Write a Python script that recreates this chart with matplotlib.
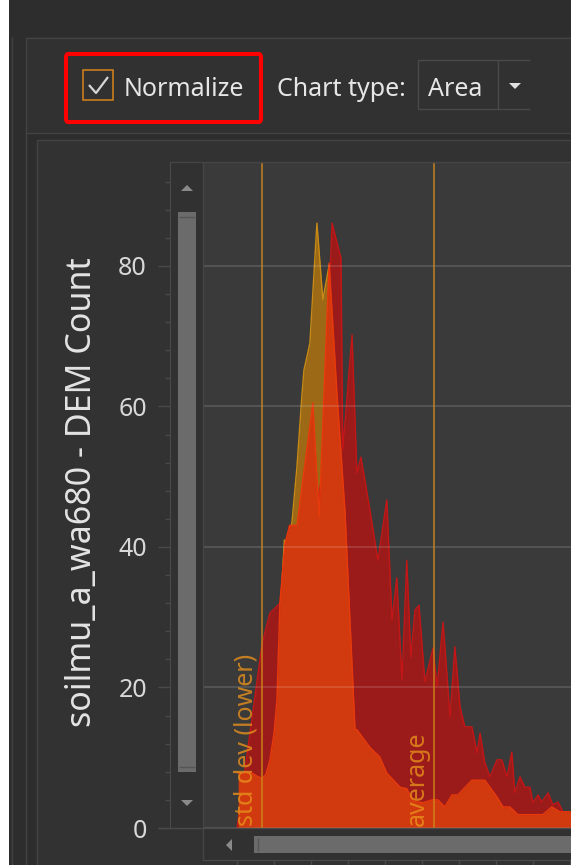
import matplotlib
matplotlib.use('Agg')
import matplotlib.pyplot as plt
import matplotlib.transforms as mtransforms
from matplotlib.patches import Rectangle, Polygon, FancyBboxPatch
from matplotlib.lines import Line2D
from matplotlib.ticker import MultipleLocator

# ---------------------------------------------------------------------------
# data (histogram of soilmu_a_wa680, bins in arbitrary units, 10 per x tick)
# ---------------------------------------------------------------------------
std_lower = 6.8
average = 53.2

gold_x = [9.5, 11.6, 12.8, 13.5, 14.9, 16.2, 17.6, 18.1, 19.7, 21.6, 23.2,
          24.9, 27.0, 29.2, 31.1, 32.7, 34.6, 37.3]
gold_y = [0, 30, 41, 39, 43.8, 51.4, 62, 65.2, 69, 86.1, 75.2,
          80.1, 62, 42, 20, 8, 3, 0]

red_x = [0.0, 3.5, 6.8, 8.9, 11.6, 13.0, 14.1, 15.7, 18.4, 21.1, 23.0, 24.3,
         25.7, 28.1, 28.6, 31.1, 32.4, 33.5, 35.7, 38.1, 40.5, 41.9, 43.2,
         44.6, 45.9, 47.0, 48.1, 49.2, 50.8, 53.0, 54.1, 55.7, 57.6, 58.9,
         60.3, 61.6, 63.5, 64.9, 65.7, 67.0, 68.4, 70.3, 71.6, 73.0, 74.3,
         75.1, 76.5, 77.8, 79.2, 80.0, 81.4, 82.4, 84.1, 85.4, 86.8, 88.1,
         90.3]
red_y = [0, 13.5, 26.3, 30.6, 32, 40, 43, 42, 44, 45, 50, 68,
         86.1, 81.1, 53.8, 70.2, 50.5, 52.8, 46, 38.1, 46.7, 29.6, 35.6,
         21.1, 38.1, 24.3, 31, 31.7, 20.8, 25.6, 20.1, 29.3, 15.8, 25.8,
         17.2, 14.4, 14.4, 10.7, 13.5, 9.3, 7.3, 9.7, 9.7, 7.3, 10.8,
         5, 7.3, 5.8, 5.8, 3.6, 4.7, 3.7, 5, 3.3, 3.7, 2.3,
         2.3]

orange_x = [0.3, 4.1, 5.7, 6.8, 7.8, 8.9, 10.0, 10.8, 11.6, 13.0, 14.3, 16.2,
            20.5, 22.2, 24.9, 27.0, 29.2, 30.5, 31.9, 32.4, 35.9, 38.6, 40.5,
            44.1, 45.9, 47.6, 50.3, 52.7, 54.3, 56.2, 58.1, 59.7, 63.5, 67.0,
            70.3, 71.9, 73.8, 75.9, 82.7, 85.1, 87.3, 90.3]
orange_y = [7.8, 7.8, 7.3, 7.1, 7.6, 9.7, 13.5, 18.2, 32, 40.6, 43.1, 43.1,
            60.5, 44.3, 80.4, 62, 45, 30, 14, 14, 11.5, 10.1, 7.8,
            5.8, 5.6, 3.8, 3.6, 4, 4, 3, 4.7, 4.7, 6.8, 6.8,
            4.4, 3, 3, 1.9, 1.9, 3, 2.3, 2.3]

y_ticks = [0, 20, 40, 60, 80]
y_label = 'soilmu_a_wa680 - DEM Count'

W, H = 571, 865
FONT = ['Noto Sans', 'DejaVu Sans']
plt.rcParams['font.family'] = FONT
UI_SIZE = 18

fig = plt.figure(figsize=(W / 100, H / 100), dpi=100)
fig.patch.set_facecolor('#2d2d2d')


# --- little pixel helpers for the window chrome ----------------------------
def box(x0, y0, x1, y1, fc='none', ec='none', lw=0.0, z=-1):
    fig.add_artist(Rectangle((x0 / W, 1 - y1 / H), (x1 - x0) / W, (y1 - y0) / H,
                             transform=fig.transFigure, facecolor=fc,
                             edgecolor=ec, linewidth=lw, zorder=z))


def line(xs, ys, color='#444444', lw=1.0, z=5):
    fig.add_artist(Line2D([x / W for x in xs], [1 - y / H for y in ys],
                          transform=fig.transFigure, color=color,
                          linewidth=lw, zorder=z, solid_capstyle='butt'))


def tri(pts, color='#8a8a8a', z=5):
    fig.add_artist(Polygon([(x / W, 1 - y / H) for x, y in pts], closed=True,
                           transform=fig.transFigure, facecolor=color,
                           edgecolor='none', zorder=z))


# backgrounds
box(0, 0, W, H, fc='#2d2d2d', z=-3)
box(26, 37, W, 133, fc='#313131', z=-2)
box(37, 140, W, H, fc='#323232', z=-2)
box(0, 0, 9, H, fc='#ffffff', z=-1)

# panel borders
BORDER = '#434343'
line([12, 12], [37, H], BORDER, 1.0)
line([26.5, 26.5], [37, H], BORDER, 1.0)
line([26, W], [37.5, 37.5], BORDER, 1.0)
line([26, W], [133, 133], BORDER, 1.0)
line([37, W], [140, 140], BORDER, 1.0)
line([37, 37], [140, H], BORDER, 1.0)

# header: Normalize checkbox + chart type combo
fig.add_artist(FancyBboxPatch((66 / W, 1 - 122 / H), (261 - 66) / W, (122 - 54) / H,
                              boxstyle='round,pad=0,rounding_size=0.004',
                              transform=fig.transFigure, facecolor='none',
                              edgecolor='#ff0000', linewidth=2.9, zorder=6))
box(83, 70, 113, 100, ec='#d9821c', lw=1.1, z=5)
line([89, 96, 108], [85, 93, 77], '#d6d6d6', 1.6, z=6)
fig.text(124 / W, 1 - 96 / H, 'Normalize', fontsize=UI_SIZE, color='#e6e6e6',
         ha='left', va='baseline')
fig.text(277 / W, 1 - 96 / H, 'Chart type:', fontsize=UI_SIZE, color='#e6e6e6',
         ha='left', va='baseline')
line([418, 530], [60, 60], '#4a4a4a', 1.0)
line([418, 530], [109, 109], '#4a4a4a', 1.0)
line([418, 418], [60, 109], '#4a4a4a', 1.0)
line([498, 498], [60, 109], '#4a4a4a', 1.0)
fig.text(428 / W, 1 - 96 / H, 'Area', fontsize=UI_SIZE, color='#e6e6e6',
         ha='left', va='baseline')
tri([(509, 83), (521, 83), (515, 89)], '#e0e0e0')

# ---------------------------------------------------------------------------
# the chart
# ---------------------------------------------------------------------------
ax = fig.add_axes([203 / W, 1 - 828 / H, (W - 203) / W, (828 - 162) / H])
ax.set_facecolor('#3a3a3a')

ax.fill_between(gold_x, gold_y, color='#9c6a16', lw=0, zorder=1)
ax.plot(gold_x, gold_y, color='#c88a14', lw=1.0, zorder=1.1)
ax.fill_between(red_x, red_y, color='#9b1b1b', lw=0, zorder=1.2)
ax.plot(red_x, red_y, color='#c41616', lw=1.0, zorder=1.3)
ax.fill_between(orange_x, orange_y, color='#d03a0e', lw=0, zorder=1.4)
ax.plot(orange_x, orange_y, color='#e83a0c', lw=1.0, zorder=1.5)

ax.set_xlim(-9.2, 90.3)
ax.set_ylim(0, 94.8)

ax.set_axisbelow(False)
ax.yaxis.grid(True, which='major', color='white', alpha=0.13, lw=1.5)
ax.xaxis.grid(False)

for xv in (std_lower, average):
    ax.axvline(xv, color='#d08a1a', alpha=0.7, lw=1.4, zorder=3)

shift = mtransforms.offset_copy(ax.transData, fig=fig, x=-4, y=2, units='dots')
ax.text(std_lower, 0, 'std dev (lower)', rotation=90, ha='right', va='bottom',
        fontsize=18, color='#e8901c', alpha=0.8, transform=shift, zorder=4)
ax.text(average, 0, 'average', rotation=90, ha='right', va='bottom',
        fontsize=18, color='#e8901c', alpha=0.8, transform=shift, zorder=4)

# axes: y spine pushed out past the scroll bar, x spine below the h-scroll
ax.spines['top'].set_visible(False)
ax.spines['right'].set_visible(False)
ax.spines['left'].set_position(('outward', 33 * 0.72))
ax.spines['bottom'].set_position(('outward', 32 * 0.72))
ax.spines['left'].set_color('#4a4a4a')
ax.spines['bottom'].set_color('#4a4a4a')

ax.set_yticks(y_ticks)
ax.yaxis.set_minor_locator(MultipleLocator(4))
ax.tick_params(axis='y', which='major', length=12 * 0.72, width=1.0,
               color='#4a4a4a', labelsize=UI_SIZE, labelcolor='#d8d8d8', pad=8)
ax.tick_params(axis='y', which='minor', length=5 * 0.72, width=1.0,
               color='#4a4a4a')
ax.xaxis.set_major_locator(MultipleLocator(10))
ax.tick_params(axis='x', which='major', length=5 * 0.72, width=1.0,
               color='#4a4a4a', labelbottom=False)

fig.text(82 / W, 1 - 492 / H, y_label, rotation=90, ha='center', va='center',
         fontsize=24.5, color='#e4e4e4')

# plot frame pieces
line([170, W], [162, 162], '#454545', 1.0)
line([158, W], [828, 828], '#4a4a4a', 1.0)
line([203, 203], [162, 860], '#454545', 1.0)

# vertical scroll bar
box(170, 162, 203, 828, fc='#313131', z=-1)
box(178, 212, 196, 772, fc='#6b6b6b', z=5)
line([179, 195], [217, 217], '#555555', 1.0, z=6)
line([179, 195], [767, 767], '#555555', 1.0, z=6)
tri([(181, 191), (193, 191), (187, 185)])
tri([(181, 800), (193, 800), (187, 806)])

# horizontal scroll bar
box(203, 828, W, 860, fc='#313131', z=-1)
box(254, 836, W, 853, fc='#6b6b6b', z=5)
line([258, 258], [838, 851], '#555555', 1.0, z=6)
tri([(226, 845), (232, 839), (232, 851)])

fig.savefig('out.png', dpi=100, facecolor=fig.get_facecolor())
